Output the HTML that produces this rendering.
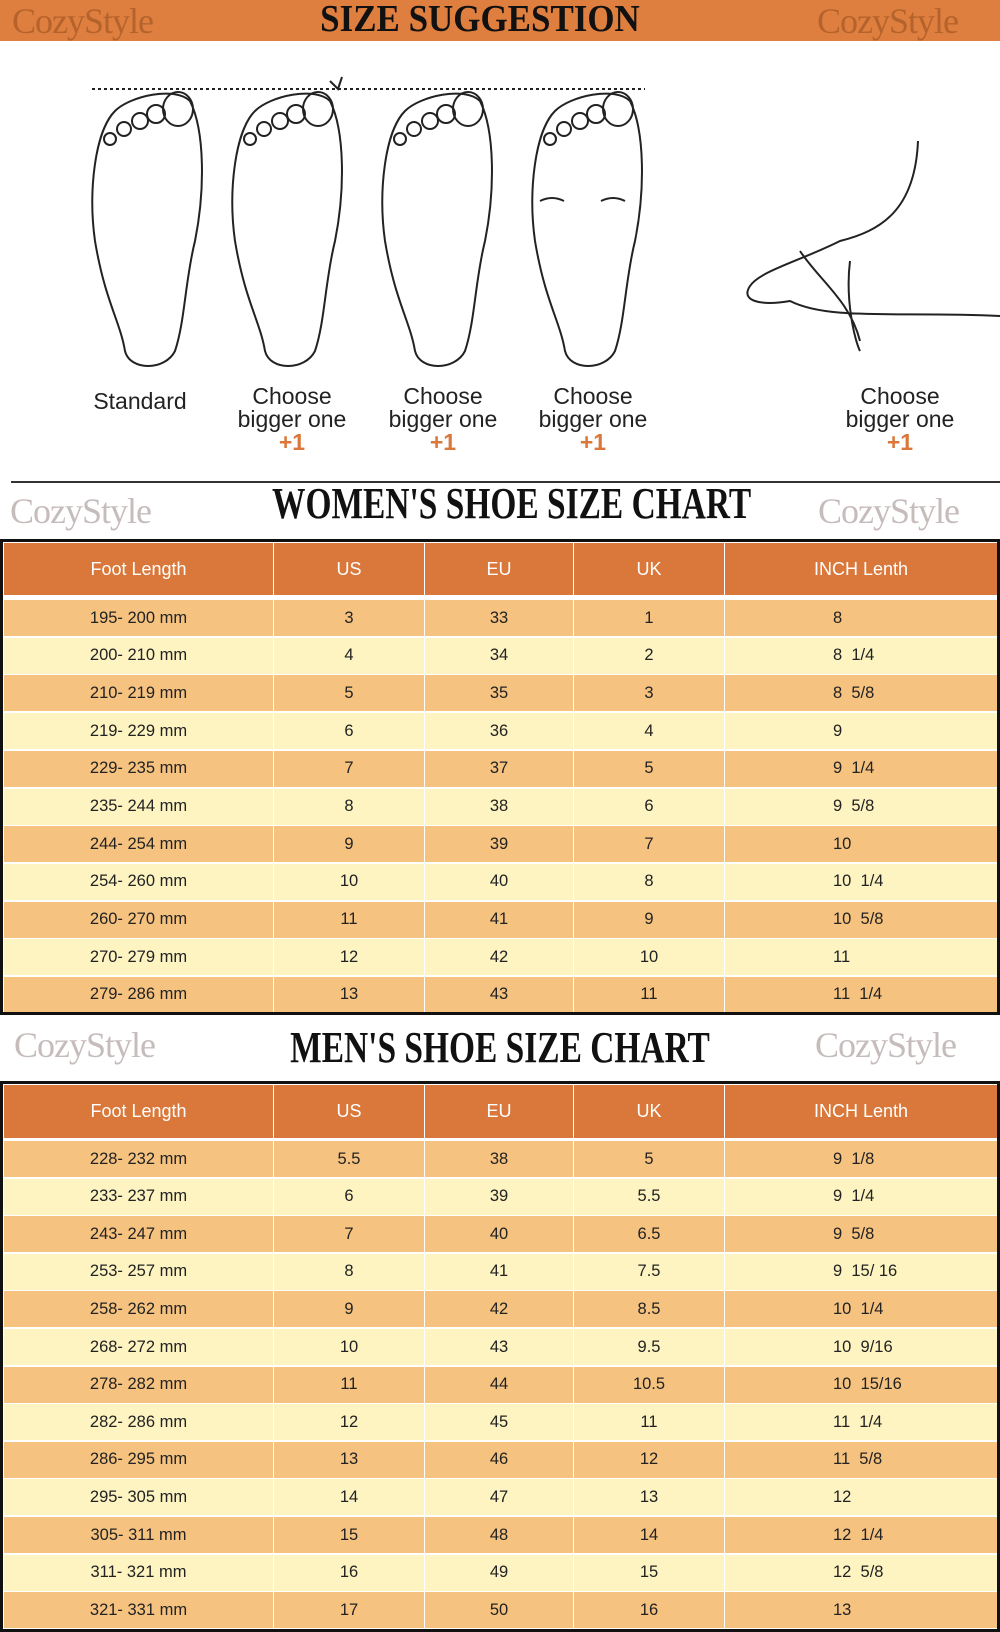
<!DOCTYPE html>
<html><head><meta charset="utf-8"><style>
*{margin:0;padding:0;box-sizing:border-box}
body{width:1000px;height:1632px;position:relative;background:#fff;font-family:"Liberation Sans",sans-serif;overflow:hidden}
.abs{position:absolute}
.top{left:0;top:0;width:1000px;height:41px;background:#df7f3f}
.wm{font-family:"Liberation Serif",serif;font-size:36px;letter-spacing:-1px}
.title{font-family:"Liberation Serif",serif;font-weight:bold;white-space:nowrap;transform-origin:center;text-align:center}
.row{position:absolute;left:4px;width:993px;display:flex;font-size:16.5px;color:#222;align-items:center}
.row div{height:100%;display:flex;align-items:center;justify-content:center;border-right:1.5px solid #fff}
.c1{width:270px}.c2{width:151px}.c3{width:149px}.c4{width:151px}.c5{width:272px;justify-content:flex-start!important;padding-left:108px;border-right:none!important}
.hd{background:#d9783a;color:#fff;font-size:18px}
.o{background:#f6c27f}.y{background:#fdf4c2}
.lab{font-size:23px;text-align:center;line-height:23px;color:#222}
.lab b{color:#d9783a;font-weight:bold}
</style></head><body>
<div class="abs top"></div>
<div class="abs wm" style="left:12px;top:0;color:#b5632c">CozyStyle</div>
<div class="abs wm" style="left:817px;top:0;color:#b5632c">CozyStyle</div>
<div class="abs title" style="left:250px;top:-3px;width:460px;font-size:38px;transform:scaleX(0.92);color:#111">SIZE SUGGESTION</div>

<svg class="abs" style="left:0;top:41px" width="1000" height="440" fill="none" stroke="#222" stroke-width="2">
<line x1="92" y1="48" x2="645" y2="48" stroke-dasharray="3,3"/>
<g id="f"><path d="M115 70 C95 90 88 150 95 200 C105 260 120 280 125 310 C130 330 165 330 175 310 C185 280 185 240 195 200 C205 150 205 90 190 60 C175 45 130 55 115 70Z"/>
<ellipse cx="178" cy="68" rx="15" ry="17"/><circle cx="156" cy="73" r="9"/><circle cx="140" cy="80" r="8"/><circle cx="124" cy="88" r="7"/><circle cx="110" cy="98" r="6"/></g>
<use href="#f" x="140"/><use href="#f" x="290"/><use href="#f" x="440"/>
<path d="M330 40 l8 8 l4 -12" />
<path d="M540 160 q12 -6 24 0 M625 160 q-12 -6 -24 0"/>
<path d="M918 100 C915 170 880 190 840 200 C800 220 760 230 750 245 C740 260 760 265 790 260 C830 280 900 270 1000 275 M800 210 C820 240 850 260 860 300 M850 220 C845 260 855 300 860 310"/>
</svg>
<div class="abs lab" style="left:80px;top:390px;width:120px">Standard</div>
<div class="abs lab" style="left:222px;top:385px;width:140px">Choose<br>bigger one<br><b>+1</b></div>
<div class="abs lab" style="left:373px;top:385px;width:140px">Choose<br>bigger one<br><b>+1</b></div>
<div class="abs lab" style="left:523px;top:385px;width:140px">Choose<br>bigger one<br><b>+1</b></div>
<div class="abs lab" style="left:830px;top:385px;width:140px">Choose<br>bigger one<br><b>+1</b></div>

<div class="abs" style="left:11px;top:481px;width:989px;height:1.5px;background:#333"></div>
<div class="abs wm" style="left:10px;top:490px;color:#c7bcbc">CozyStyle</div>
<div class="abs wm" style="left:818px;top:490px;color:#c7bcbc">CozyStyle</div>
<div class="abs title" style="left:200px;top:478px;width:600px;font-size:44px;transform:scaleX(0.76);color:#111">WOMEN'S SHOE SIZE CHART</div>

<div class="abs" style="left:0;top:539px;width:1000px;height:476px;border:3px solid #111"></div>
<div class="row" style="top:543px;height:52px"><div class="c1 hd">Foot Length</div><div class="c2 hd">US</div><div class="c3 hd">EU</div><div class="c4 hd">UK</div><div class="c5 hd" style="justify-content:center!important;padding-left:0">INCH Lenth</div></div>

<div class="abs wm" style="left:14px;top:1024px;color:#c7bcbc">CozyStyle</div>
<div class="abs wm" style="left:815px;top:1024px;color:#c7bcbc">CozyStyle</div>
<div class="abs title" style="left:200px;top:1022px;width:600px;font-size:44px;transform:scaleX(0.76);color:#111">MEN'S SHOE SIZE CHART</div>
<div class="abs" style="left:0;top:1081px;width:1000px;height:551px;border:3px solid #111"></div>
<div class="row" style="top:1085px;height:53px"><div class="c1 hd">Foot Length</div><div class="c2 hd">US</div><div class="c3 hd">EU</div><div class="c4 hd">UK</div><div class="c5 hd" style="justify-content:center!important;padding-left:0">INCH Lenth</div></div>

<div class="row o" style="top:600px;height:36px"><div class="c1">195- 200 mm</div><div class="c2">3</div><div class="c3">33</div><div class="c4">1</div><div class="c5">8</div></div>
<div class="row y" style="top:637.7px;height:36px"><div class="c1">200- 210 mm</div><div class="c2">4</div><div class="c3">34</div><div class="c4">2</div><div class="c5">8&nbsp;&nbsp;1/4</div></div>
<div class="row o" style="top:675.4px;height:36px"><div class="c1">210- 219 mm</div><div class="c2">5</div><div class="c3">35</div><div class="c4">3</div><div class="c5">8&nbsp;&nbsp;5/8</div></div>
<div class="row y" style="top:713.1px;height:36px"><div class="c1">219- 229 mm</div><div class="c2">6</div><div class="c3">36</div><div class="c4">4</div><div class="c5">9</div></div>
<div class="row o" style="top:750.8px;height:36px"><div class="c1">229- 235 mm</div><div class="c2">7</div><div class="c3">37</div><div class="c4">5</div><div class="c5">9&nbsp;&nbsp;1/4</div></div>
<div class="row y" style="top:788.5px;height:36px"><div class="c1">235- 244 mm</div><div class="c2">8</div><div class="c3">38</div><div class="c4">6</div><div class="c5">9&nbsp;&nbsp;5/8</div></div>
<div class="row o" style="top:826.2px;height:36px"><div class="c1">244- 254 mm</div><div class="c2">9</div><div class="c3">39</div><div class="c4">7</div><div class="c5">10</div></div>
<div class="row y" style="top:863.9px;height:36px"><div class="c1">254- 260 mm</div><div class="c2">10</div><div class="c3">40</div><div class="c4">8</div><div class="c5">10&nbsp;&nbsp;1/4</div></div>
<div class="row o" style="top:901.6px;height:36px"><div class="c1">260- 270 mm</div><div class="c2">11</div><div class="c3">41</div><div class="c4">9</div><div class="c5">10&nbsp;&nbsp;5/8</div></div>
<div class="row y" style="top:939.3px;height:36px"><div class="c1">270- 279 mm</div><div class="c2">12</div><div class="c3">42</div><div class="c4">10</div><div class="c5">11</div></div>
<div class="row o" style="top:977px;height:35px"><div class="c1">279- 286 mm</div><div class="c2">13</div><div class="c3">43</div><div class="c4">11</div><div class="c5">11&nbsp;&nbsp;1/4</div></div>

<div class="row o" style="top:1141px;height:36px"><div class="c1">228- 232 mm</div><div class="c2">5.5</div><div class="c3">38</div><div class="c4">5</div><div class="c5">9&nbsp;&nbsp;1/8</div></div>
<div class="row y" style="top:1178.6px;height:36px"><div class="c1">233- 237 mm</div><div class="c2">6</div><div class="c3">39</div><div class="c4">5.5</div><div class="c5">9&nbsp;&nbsp;1/4</div></div>
<div class="row o" style="top:1216.2px;height:36px"><div class="c1">243- 247 mm</div><div class="c2">7</div><div class="c3">40</div><div class="c4">6.5</div><div class="c5">9&nbsp;&nbsp;5/8</div></div>
<div class="row y" style="top:1253.8px;height:36px"><div class="c1">253- 257 mm</div><div class="c2">8</div><div class="c3">41</div><div class="c4">7.5</div><div class="c5">9&nbsp;&nbsp;15/ 16</div></div>
<div class="row o" style="top:1291.4px;height:36px"><div class="c1">258- 262 mm</div><div class="c2">9</div><div class="c3">42</div><div class="c4">8.5</div><div class="c5">10&nbsp;&nbsp;1/4</div></div>
<div class="row y" style="top:1329px;height:36px"><div class="c1">268- 272 mm</div><div class="c2">10</div><div class="c3">43</div><div class="c4">9.5</div><div class="c5">10&nbsp;&nbsp;9/16</div></div>
<div class="row o" style="top:1366.6px;height:36px"><div class="c1">278- 282 mm</div><div class="c2">11</div><div class="c3">44</div><div class="c4">10.5</div><div class="c5">10&nbsp;&nbsp;15/16</div></div>
<div class="row y" style="top:1404.2px;height:36px"><div class="c1">282- 286 mm</div><div class="c2">12</div><div class="c3">45</div><div class="c4">11</div><div class="c5">11&nbsp;&nbsp;1/4</div></div>
<div class="row o" style="top:1441.8px;height:36px"><div class="c1">286- 295 mm</div><div class="c2">13</div><div class="c3">46</div><div class="c4">12</div><div class="c5">11&nbsp;&nbsp;5/8</div></div>
<div class="row y" style="top:1479.4px;height:36px"><div class="c1">295- 305 mm</div><div class="c2">14</div><div class="c3">47</div><div class="c4">13</div><div class="c5">12</div></div>
<div class="row o" style="top:1517px;height:36px"><div class="c1">305- 311 mm</div><div class="c2">15</div><div class="c3">48</div><div class="c4">14</div><div class="c5">12&nbsp;&nbsp;1/4</div></div>
<div class="row y" style="top:1554.6px;height:36px"><div class="c1">311- 321 mm</div><div class="c2">16</div><div class="c3">49</div><div class="c4">15</div><div class="c5">12&nbsp;&nbsp;5/8</div></div>
<div class="row o" style="top:1592.2px;height:36px"><div class="c1">321- 331 mm</div><div class="c2">17</div><div class="c3">50</div><div class="c4">16</div><div class="c5">13</div></div>
</body></html>
